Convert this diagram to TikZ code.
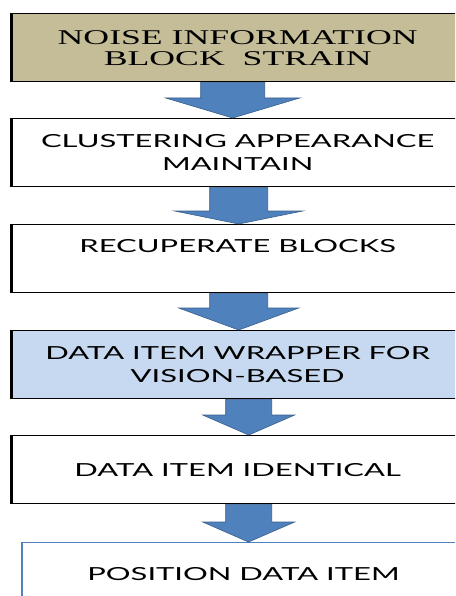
\documentclass[tikz,border=0pt]{standalone}
\usepackage{fontspec}
\usepackage{tikz}
\usetikzlibrary{calc}
\usepackage{xcolor}
\newfontfamily\BoxSerif[FakeStretch=1.7]{Liberation Serif}
\newfontfamily\BoxSans[FakeStretch=1.72]{Lato}
\definecolor{ColTan}{RGB}{196,189,151}
\definecolor{ColSky}{RGB}{198,217,241}
\definecolor{ColArrow}{RGB}{79,129,189}
\definecolor{ColArrowEdge}{RGB}{56,93,138}
\tikzset{ShaftW/.store in=\ShaftW,HeadW/.store in=\HeadW,HeadL/.store in=\HeadL}
\tikzstyle{StepBox}=[rectangle,draw=black,line width=1.4pt,anchor=north west,
minimum width=452pt,minimum height=68pt,align=center,inner sep=0pt,
font=\BoxSans\fontsize{18}{23}\selectfont]
\tikzstyle{LeftEdge}=[line width=3pt]
\tikzstyle{BlockArrow}=[fill=ColArrow,draw=ColArrowEdge,line width=0.6pt,
to path={let \p1=(\tikztostart),\p2=(\tikztotarget) in
 (\x1-\ShaftW,\y1)--(\x1-\ShaftW,\y2+\HeadL)--(\x1-\HeadW,\y2+\HeadL)--(\x2,\y2)
 --(\x1+\HeadW,\y2+\HeadL)--(\x1+\ShaftW,\y2+\HeadL)--(\x1+\ShaftW,\y1)--cycle}]

\begin{document}
\begin{tikzpicture}[x=1pt,y=-1pt]
        \useasboundingbox(0,0)rectangle(455,596);
        \clip(0,0)rectangle(455,596);
        \node[StepBox,fill=ColTan,font=\BoxSerif\fontsize{21}{21}\selectfont](b1)at(11,13)
            {NOISE INFORMATION\\BLOCK\ \ STRAIN};
        \node[StepBox](b2)at(11,118){CLUSTERING APPEARANCE\\MAINTAIN};
        \node[StepBox,text depth=25pt](b3)at(11,224){RECUPERATE BLOCKS};
        \node[StepBox,fill=ColSky](b4)at(11,330){DATA ITEM WRAPPER FOR\\VISION-BASED};
        \node[StepBox](b5)at(11,435){DATA ITEM IDENTICAL};
        \node[StepBox,draw=ColArrow,line width=1pt,minimum width=442pt,minimum height=64pt](b6)at(22,542)
            {POSITION DATA ITEM};
        \foreach \b in {b1,b2,b3,b4,b5}
            \draw[LeftEdge](\b.north west)--(\b.south west);
        \draw[ColArrow,line width=2.5pt](b6.north west)--(b6.south west);
        \draw[BlockArrow,ShaftW=32pt,HeadW=67pt,HeadL=20pt]([xshift=-5pt]b1.south)to([xshift=-5pt]b2.north);
        \draw[BlockArrow,ShaftW=29pt,HeadW=64pt,HeadL=13pt]([xshift=1pt]b2.south)to([xshift=1pt]b3.north);
        \draw[BlockArrow,ShaftW=29pt,HeadW=60pt,HeadL=22pt]([xshift=1pt]b3.south)to([xshift=1pt]b4.north);
        \draw[BlockArrow,ShaftW=23pt,HeadW=46pt,HeadL=20pt]([xshift=11pt]b4.south)to([xshift=11pt]b5.north);
        \draw[BlockArrow,ShaftW=23pt,HeadW=46pt,HeadL=20pt]([xshift=11pt]b5.south)to([xshift=5pt]b6.north);
    \end{tikzpicture}
\end{document}
